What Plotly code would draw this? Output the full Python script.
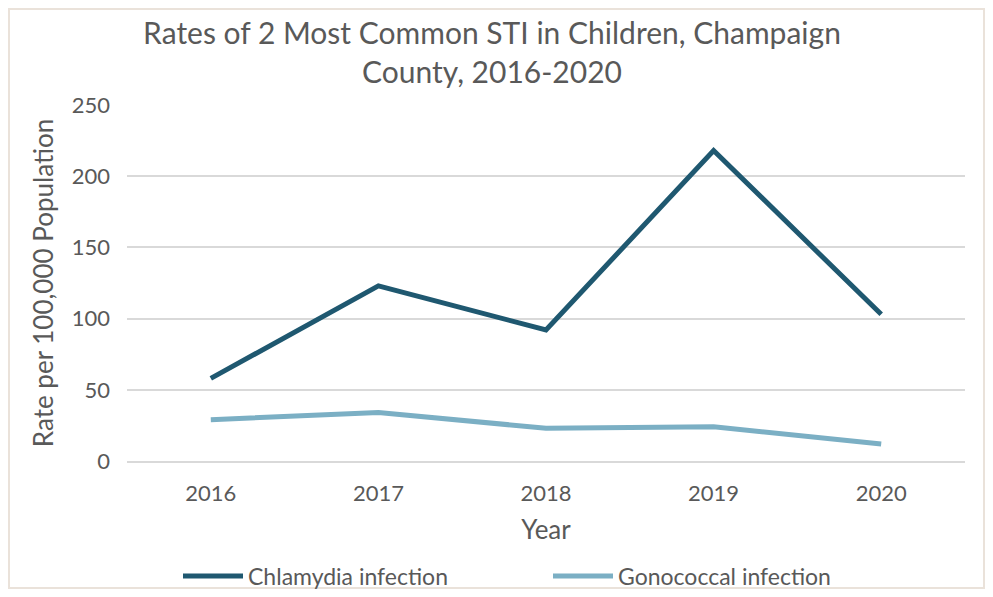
import plotly.graph_objects as go

years = ["2016", "2017", "2018", "2019", "2020"]
chlamydia = [58, 123, 92, 218, 103]
gonococcal = [29, 34, 23, 24, 12]
y_ticks = [0, 50, 100, 150, 200, 250]

# page body adds an 8px margin, so the figure is 16px smaller and offset
W, H = 977, 581
L, R, T, B = 119, 20, 97, 128
pw, ph = W - L - R, H - T - B

font = "Lato, Open Sans, sans-serif"
gray = "#595959"

fig = go.Figure()
fig.add_trace(go.Scatter(x=years, y=chlamydia, mode="lines", name="Chlamydia infection",
                         line=dict(color="#1F5870", width=5)))
fig.add_trace(go.Scatter(x=years, y=gonococcal, mode="lines", name="Gonococcal infection",
                         line=dict(color="#7BAFC4", width=5)))

fig.update_layout(
    width=W, height=H,
    margin=dict(l=L, r=R, t=T, b=B, autoexpand=False),
    paper_bgcolor="white", plot_bgcolor="white",
    font=dict(family=font, color=gray, size=22),
    title=dict(text="Rates of 2 Most Common STI in Children, Champaign<br>County, 2016-2020",
               x=484 / W, xanchor="center", y=1 - 36 / H, yanchor="middle",
               font=dict(size=30, color=gray, family=font)),
    showlegend=True,
    legend=dict(orientation="h", xref="container", yref="container",
                x=170 / W, xanchor="left", y=1 - 568 / H, yanchor="middle",
                font=dict(size=23, color=gray, family=font), itemwidth=60,
                entrywidth=295, entrywidthmode="pixels", bgcolor="rgba(0,0,0,0)"),
)
fig.update_xaxes(type="category", showgrid=False, showline=True, linecolor="#D9D9D9", linewidth=2,
                 ticks="", tickfont=dict(size=22, color=gray), range=[-0.5, 4.5],
                 ticklabelstandoff=12,
                 title=dict(text="Year", font=dict(size=26, color=gray), standoff=15))
fig.update_yaxes(range=[0, 250], tickvals=y_ticks, showgrid=True, gridcolor="#D9D9D9", gridwidth=2,
                 zeroline=False, showline=False, ticks="", ticklabelstandoff=16,
                 tickfont=dict(size=22, color=gray),
                 title=dict(text="Rate per 100,000 Population", font=dict(size=26, color=gray), standoff=10))

# outer chart frame
fig.add_shape(type="rect", xref="paper", yref="paper",
              x0=-(L - 1) / pw, x1=1 + (R - 1) / pw, y0=-(B - 1) / ph, y1=1 + (T - 1) / ph,
              line=dict(color="#EAE2DA", width=2), layer="below")

fig.write_html("out.html")
